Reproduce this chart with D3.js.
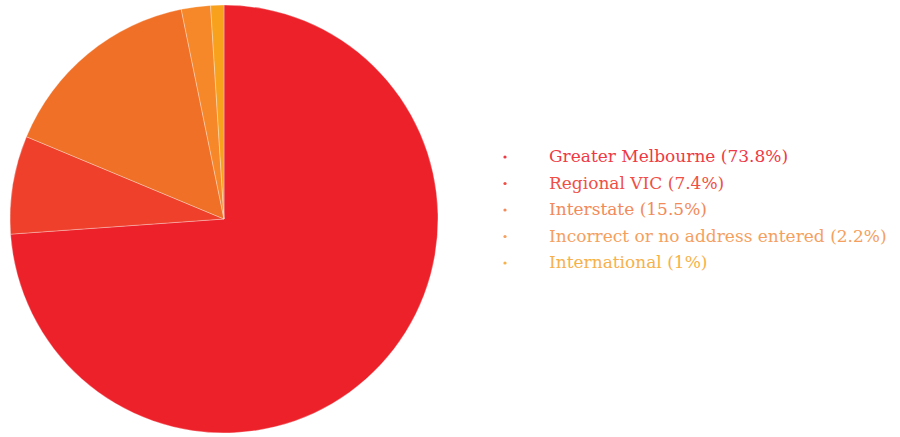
<!DOCTYPE html>
<html lang="en">
    <head>
        <meta charset="utf-8">
        <title>Pie chart</title>
        <script src="https://d3js.org/d3.v7.min.js"></script>
        <style>
            body{ margin:0; background:#fff; }
        </style>
    </head>
    <body>
        <script type="text/javascript">
        'use strict';

        //data
        var categories = ["Greater Melbourne", "Regional VIC", "Interstate",
            "Incorrect or no address entered", "International"];
        var values = [73.8, 7.4, 15.5, 2.2, 1];
        var valueLabels = ["73.8%", "7.4%", "15.5%", "2.2%", "1%"];
        var colors = ["#ed2129", "#ee402b", "#f07027", "#f6882a", "#f8a11d"];
        var textColors = ["#ee3a45", "#ef4f45", "#f28a5a", "#f5a05e", "#f7b14a"];

        var w = 900;
        var h = 437;
        var cx = 224, cy = 219, r = 214;

        var svg = d3.select("body")
                    .append("svg")
                    .attr("width", w)
                    .attr("height", h);

        var pie = d3.pie().sort(null).value(function(d){ return d; });
        var arc = d3.arc().innerRadius(0).outerRadius(r);

        var g = svg.append("g").attr("transform", "translate(" + cx + "," + cy + ")");
        g.selectAll("path")
            .data(pie(values))
            .enter()
            .append("path")
            .attr("d", arc)
            .attr("fill", function(d, i){ return colors[i]; })
            .attr("stroke", "rgba(255,255,255,0.5)")
            .attr("stroke-width", 0.6);

        //legend
        var legend = svg.append("g");
        var rows = legend.selectAll("g")
            .data(categories)
            .enter()
            .append("g")
            .attr("transform", function(d, i){
                return "translate(0," + (162 + i * 26.5) + ")";
            });
        rows.append("circle")
            .attr("cx", 505)
            .attr("cy", -5)
            .attr("r", 1.6)
            .attr("fill", function(d, i){ return textColors[i]; });
        rows.append("text")
            .attr("x", 549)
            .attr("y", 0)
            .attr("font-family", "DejaVu Serif")
            .attr("font-size", "17px")
            .attr("fill", function(d, i){ return textColors[i]; })
            .text(function(d, i){ return d + " (" + valueLabels[i] + ")"; });
        </script>
    </body>
</html>
